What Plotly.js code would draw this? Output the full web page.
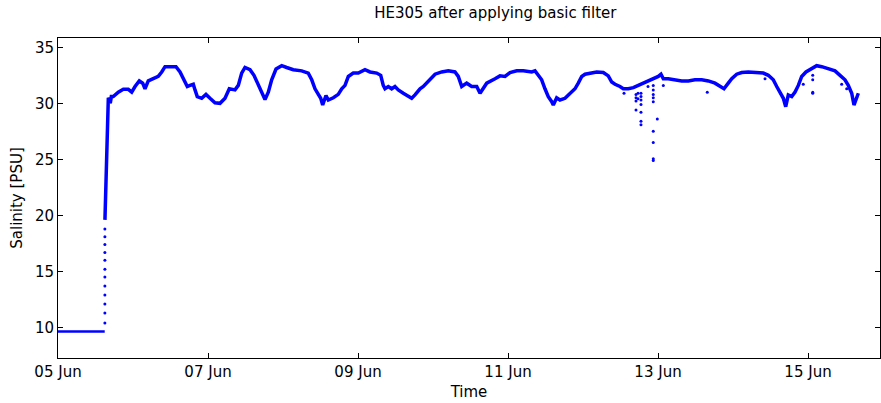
<!DOCTYPE html>
<html>
<head>
<meta charset="utf-8">
<script src="https://cdn.plot.ly/plotly-3.0.1.min.js"></script>
<style>html,body{margin:0;padding:0;background:#fff;}#chart{width:881px;height:403px;}</style>
</head>
<body>
<div id="chart"></div>
<script>
// Time in decimal day of June; salinity in PSU
const flatDays = [5.000, 5.623];
const flatSal  = [9.65, 9.65];

const curveDays = [5.626,5.644,5.657,5.671,5.684,5.697,5.711,5.737,5.804,5.871,5.937,5.983,6.027,6.084,6.129,6.160,6.204,6.271,6.337,6.383,6.427,6.493,6.573,6.627,6.671,6.724,6.760,6.804,6.827,6.857,6.916,6.973,7.027,7.093,7.160,7.227,7.284,7.360,7.404,7.449,7.493,7.560,7.613,7.671,7.716,7.760,7.804,7.849,7.907,7.983,8.049,8.137,8.249,8.337,8.383,8.427,8.471,8.503,8.529,8.573,8.604,8.671,8.737,8.783,8.827,8.871,8.937,9.004,9.093,9.160,9.249,9.303,9.337,9.360,9.404,9.449,9.493,9.537,9.604,9.671,9.716,9.760,9.827,9.871,9.916,9.960,10.027,10.116,10.204,10.293,10.337,10.383,10.449,10.516,10.583,10.627,10.671,10.716,10.827,10.893,10.960,11.027,11.116,11.204,11.316,11.360,11.404,11.449,11.493,11.537,11.583,11.604,11.649,11.693,11.760,11.827,11.893,11.937,11.983,12.027,12.093,12.183,12.271,12.337,12.383,12.427,12.493,12.537,12.604,12.671,12.737,12.804,12.871,12.937,13.004,13.040,13.071,13.137,13.227,13.316,13.404,13.493,13.583,13.671,13.760,13.827,13.880,13.937,13.983,14.049,14.116,14.204,14.316,14.404,14.471,14.537,14.583,14.627,14.671,14.703,14.737,14.783,14.827,14.871,14.916,14.973,15.049,15.116,15.183,15.271,15.360,15.427,15.493,15.537,15.583,15.613,15.649,15.671];
const curveSal  = [19.6,24.5,28.5,30.5,30.3,30.0,30.6,30.6,31.0,31.25,31.25,31.0,31.5,32.0,31.8,31.3,32.0,32.2,32.4,32.8,33.27,33.27,33.27,32.8,32.2,31.5,31.6,31.7,31.2,30.6,30.45,30.8,30.45,30.05,30.0,30.45,31.3,31.2,31.6,32.7,33.2,33.0,32.5,31.6,30.9,30.35,31.0,32.1,33.06,33.36,33.2,33.0,32.9,32.7,32.1,31.3,30.8,30.45,29.85,30.7,30.3,30.5,30.8,31.3,31.6,32.4,32.7,32.7,33.0,32.8,32.7,32.5,31.6,31.3,31.5,31.3,31.5,31.2,30.9,30.6,30.45,30.75,31.3,31.5,31.8,32.2,32.6,32.8,32.9,32.8,32.4,31.5,31.8,31.5,31.5,30.9,31.3,31.8,32.2,32.45,32.4,32.75,32.9,32.9,32.8,32.9,32.5,32.1,31.3,30.6,30.15,29.85,30.5,30.3,30.45,30.9,31.3,31.8,32.4,32.6,32.7,32.8,32.75,32.45,31.9,31.7,31.5,31.3,31.3,31.4,31.6,31.8,32.0,32.2,32.4,32.6,32.2,32.2,32.1,32.0,32.0,32.1,32.1,32.0,31.8,31.5,31.3,31.8,32.2,32.6,32.75,32.8,32.7,32.7,32.5,32.1,31.5,30.9,30.45,29.7,30.75,30.6,31.0,31.6,32.4,32.8,33.1,33.36,33.27,33.1,32.9,32.5,32.1,31.6,30.9,29.85,30.45,30.9];

// isolated samples: the sensor jump and spikes
const dotDays = [5.625,5.625,5.625,5.625,5.625,5.625,5.625,5.625,5.625,5.625,5.625,5.625,
  12.707,12.707,12.707,12.707,12.733,12.733,12.773,12.773,12.773,12.773,12.773,12.773,12.773,12.867,
  12.937,12.937,12.937,12.937,12.937,12.937,12.937,12.937,12.937,12.991,12.547,13.071,13.657,14.427,14.937,15.063,15.063,15.063,15.063,15.449,15.516];
const dotSal  = [10.4,11.3,12.1,12.9,13.7,14.5,15.2,16.0,16.7,17.4,18.1,18.8,
  30.8,30.5,30.2,29.4,30.9,30.4,30.9,30.6,30.3,29.9,29.2,28.4,28.1,31.5,
  31.6,31.2,30.8,30.5,30.15,27.5,26.5,25.05,24.9,28.6,30.9,31.6,31.0,32.2,31.7,32.5,32.1,31.0,30.9,31.7,31.3];

const xTickVals = [5,7,9,11,13,15];
const xTickText = ['05 Jun','07 Jun','09 Jun','11 Jun','13 Jun','15 Jun'];
const yTickVals = [10,15,20,25,30,35];

const blue = '#0000ff';
const FONT = 'DejaVu Sans, Arial, sans-serif';

const traces = [
  {x: flatDays, y: flatSal, mode:'lines', line:{color:blue, width:2.5}, hoverinfo:'skip'},
  {x: curveDays, y: curveSal, mode:'lines', line:{color:blue, width:3.5}, hoverinfo:'skip'},
  {x: dotDays, y: dotSal, mode:'markers', marker:{color:blue, size:3}, hoverinfo:'skip'}
];

const axisCommon = {
  showline:true, mirror:'allticks', linecolor:'#000', linewidth:1,
  ticks:'inside', ticklen:5, tickwidth:1, tickcolor:'#000',
  showgrid:false, zeroline:false, automargin:false,
  tickfont:{family:FONT, size:15, color:'#000'}
};

const layout = {
  width:881, height:403,
  margin:{l:58, r:1, t:38, b:45, pad:0},
  paper_bgcolor:'#fff', plot_bgcolor:'#fff',
  showlegend:false,
  title:{text:'HE305 after applying basic filter', font:{family:FONT, size:15, color:'#000'},
         x:0.532, xanchor:'center', y:0.968, yanchor:'middle', yref:'container', xref:'paper'},
  xaxis:Object.assign({}, axisCommon, {
    range:[5, 15.96], tickmode:'array', tickvals:xTickVals, ticktext:xTickText,
    title:{text:'Time', font:{family:FONT, size:15, color:'#000'}, standoff:6}
  }),
  yaxis:Object.assign({}, axisCommon, {
    range:[7.28, 35.83], tickmode:'array', tickvals:yTickVals,
    title:{text:'Salinity [PSU]', font:{family:FONT, size:15, color:'#000'}, standoff:8}
  })
};

Plotly.newPlot('chart', traces, layout, {staticPlot:true, displayModeBar:false});
</script>
</body>
</html>
